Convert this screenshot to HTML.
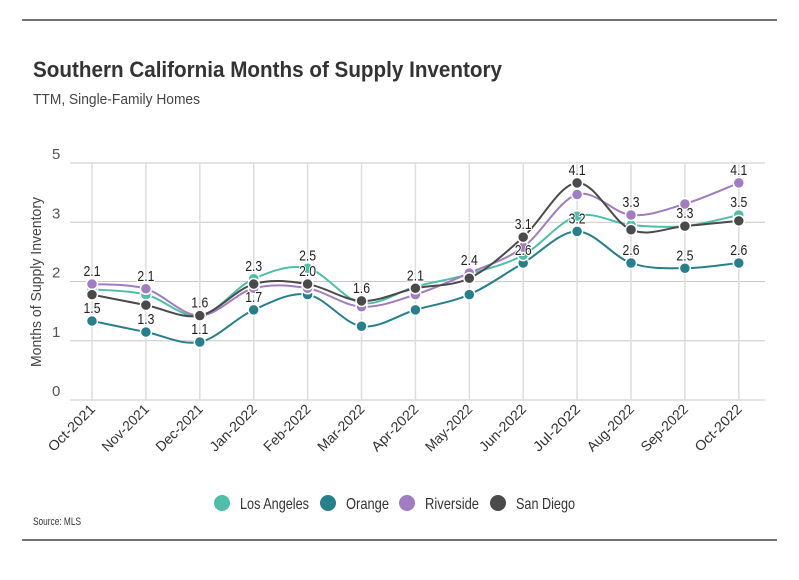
<!DOCTYPE html>
<html><head><meta charset="utf-8">
<style>
body{margin:0;background:#fff;font-family:"Liberation Sans Narrow","Liberation Sans",sans-serif;}
svg text{font-family:"Liberation Sans Narrow","Liberation Sans",sans-serif;}
</style></head>
<body>
<svg id="chart" width="799" height="575" xmlns="http://www.w3.org/2000/svg">
<line x1="22" y1="20" x2="777" y2="20" stroke="#222" stroke-width="1.2"/>
<text x="33" y="77" font-size="22" font-weight="bold" fill="#333" textLength="469" lengthAdjust="spacingAndGlyphs">Southern California Months of Supply Inventory</text>
<text x="33" y="104" font-size="15" fill="#444" textLength="167" lengthAdjust="spacingAndGlyphs">TTM, Single-Family Homes</text>
<text x="41" y="282" font-size="15" fill="#444" text-anchor="middle" textLength="170" lengthAdjust="spacingAndGlyphs" transform="rotate(-90 41 282)">Months of Supply Inventory</text>
<g id="grid"></g><g id="series"></g><g id="labels"></g><g id="xaxis"></g>
<g id="legend"></g>
<text x="33" y="525" font-size="11" fill="#333" textLength="48" lengthAdjust="spacingAndGlyphs">Source: MLS</text>
<line x1="22" y1="540" x2="777" y2="540" stroke="#222" stroke-width="1.2"/>
</svg>
<script>
const months=["Oct-2021","Nov-2021","Dec-2021","Jan-2022","Feb-2022","Mar-2022","Apr-2022","May-2022","Jun-2022","Jul-2022","Aug-2022","Sep-2022","Oct-2022"];
const seriesNames=["Los Angeles","Orange","Riverside","San Diego"];
const laValues=[2.1,2.0,1.6,2.3,2.5,1.84,2.15,2.39,2.75,3.49,3.32,3.3,3.51];
const orangeValues=[1.5,1.29,1.1,1.71,2.0,1.4,1.71,2.0,2.6,3.2,2.6,2.5,2.6];
const riversideValues=[2.2,2.11,1.6,2.12,2.12,1.77,2.0,2.41,2.9,3.9,3.51,3.72,4.12];
const sanDiegoValues=[2.0,1.8,1.6,2.2,2.2,1.88,2.12,2.31,3.09,4.12,3.23,3.3,3.4];
const yTickLabels=["0","1","2","3","5"];
// point labels: [seriesIndex, text] per month
const pointLabels=[[[2,"2.1"],[1,"1.5"]],[[2,"2.1"],[1,"1.3"]],[[3,"1.6"],[1,"1.1"]],[[0,"2.3"],[1,"1.7"]],[[0,"2.5"],[3,"2.0"]],[[3,"1.6"]],[[3,"2.1"]],[[2,"2.4"]],[[3,"3.1"],[1,"2.6"]],[[3,"4.1"],[1,"3.2"]],[[2,"3.3"],[1,"2.6"]],[[3,"3.3"],[1,"2.5"]],[[2,"4.1"],[0,"3.5"],[1,"2.6"]]];
const colors=["#4dbfa8","#267f8a","#a07cc0","#4a4a4a"];
const allValues=[laValues,orangeValues,riversideValues,sanDiegoValues];
const NS="http://www.w3.org/2000/svg";
const x=i=>92+i*53.9;
const y=v=>400-v*52.7;
function mk(tag,attrs,parent){const e=document.createElementNS(NS,tag);for(const k in attrs)e.setAttribute(k,attrs[k]);parent.appendChild(e);return e;}
const grid=document.getElementById('grid');
yTickLabels.forEach((t,i)=>{
  const gy=400-i*59.25;
  const l=mk('line',{x1:70,x2:765,y1:gy,y2:gy,stroke:"#c8c8c8","stroke-width":1},grid);
  
  
  const tx=mk('text',{x:52,y:gy-4,"font-size":15,fill:"#555"},grid);
  tx.textContent=t;
  
  
});
months.forEach((m,i)=>{
  const l=mk('line',{x1:x(i),x2:x(i),y1:163,y2:400,stroke:"#ddd","stroke-width":1.5},grid);
  
  
  const t=mk('text',{x:x(i)+4,y:410,"font-size":14,fill:"#333","text-anchor":"end",textLength:60,lengthAdjust:"spacingAndGlyphs",transform:`rotate(-45 ${x(i)+4} 410)`},document.getElementById('xaxis'));
  t.textContent=m;
  
  
});
function smooth(pts){let d=`M${pts[0][0]},${pts[0][1]}`;
  for(let i=0;i<pts.length-1;i++){const p0=pts[i-1]||pts[i],p1=pts[i],p2=pts[i+1],p3=pts[i+2]||p2;
    const c1=[p1[0]+(p2[0]-p0[0])/6,p1[1]+(p2[1]-p0[1])/6],c2=[p2[0]-(p3[0]-p1[0])/6,p2[1]-(p3[1]-p1[1])/6];
    d+=` C${c1[0]},${c1[1]} ${c2[0]},${c2[1]} ${p2[0]},${p2[1]}`;}return d;}
const sg=document.getElementById('series');
[1,0,2,3].forEach(s=>{
  const g=mk('g',{},sg);
  
  
  const pts=allValues[s].map((v,i)=>[x(i),y(v)]);
  const p=mk('path',{d:smooth(pts),fill:"none",stroke:colors[s],"stroke-width":2},g);
  
  
  pts.forEach(pt=>{const c=mk('circle',{cx:pt[0],cy:pt[1],r:5.5,fill:colors[s],stroke:"#fff","stroke-width":1.5},g);
    
    });
});
const lg=document.getElementById('labels');
pointLabels.forEach((arr,i)=>arr.forEach(([s,t])=>{
  const e=mk('text',{x:x(i),y:y(allValues[s][i])-8,"font-size":15,fill:"#222","text-anchor":"middle",textLength:17,lengthAdjust:"spacingAndGlyphs",stroke:"#fff","stroke-width":2,"paint-order":"stroke"},lg);
  e.textContent=t;
  
  
}));
const leg=document.getElementById('legend');
const legX=[222,328,407,498];
const legW=[69,43,54,59];
seriesNames.forEach((n,i)=>{
  const g=mk('g',{},leg);
  
  
  mk('circle',{cx:legX[i],cy:503,r:8,fill:colors[i]},g);
  const t=mk('text',{x:legX[i]+18,y:509,"font-size":16,fill:"#333",textLength:legW[i],lengthAdjust:"spacingAndGlyphs"},g);
  t.textContent=n;
});
</script>
</body></html>
